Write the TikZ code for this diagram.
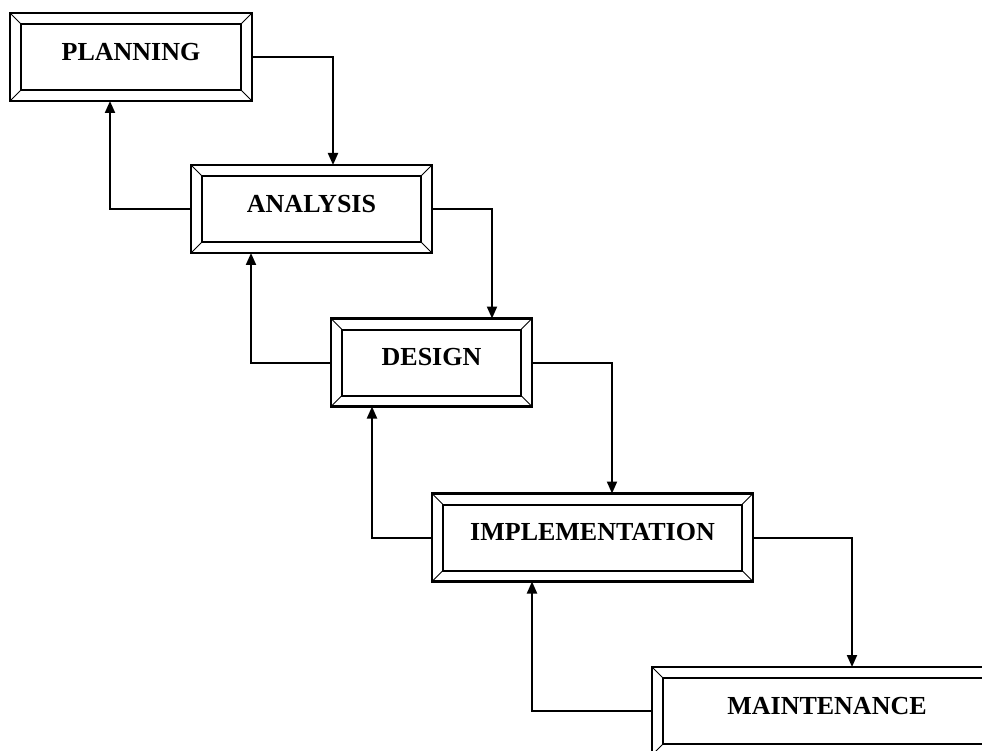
\documentclass[tikz,border=0pt]{standalone}
\usepackage{fontspec}
\setmainfont{Liberation Serif}
\usetikzlibrary{arrows.meta}
\tikzset{
    phase/.style={draw, line width=2.4pt, outer sep=0pt, inner sep=0pt,
        minimum height=88pt, text depth=11pt,
        font=\fontsize{26}{30}\selectfont\bfseries},
    bevel/.style={line width=2pt},
    corner/.style={line width=1pt},
    flow/.style={line width=2pt, -{Triangle[length=12pt,width=10pt]}}
}
\begin{document}
\begin{tikzpicture}[x=1pt, y=-1pt]
    \useasboundingbox (0,0) rectangle (982,751);
    % the five phases
    \foreach \n/\txt/\x/\y/\w in {plan/PLANNING/131/57/242,
                                  anal/ANALYSIS/311.5/209/241,
                                  desi/DESIGN/431.5/362.5/201,
                                  impl/IMPLEMENTATION/592.5/537.5/321,
                                  main/MAINTENANCE/827/711/350} {
        \node[phase, minimum width=\w pt] (\n) at (\x, \y) {\txt};
        \draw[bevel] ([shift={(11,11)}]\n.north west) rectangle ([shift={(-11,-11)}]\n.south east);
        \begin{scope}[corner]
            \draw (\n.north west) -- ++(11, 11);
            \draw (\n.north east) -- ++(-11, 11);
            \draw (\n.south west) -- ++(11, -11);
            \draw (\n.south east) -- ++(-11, -11);
        \end{scope}
    }
    % forward and feedback arrows
    \foreach \a/\b/\dn/\up in {plan/anal/21.5/-21, anal/desi/60.5/-60.5,
                               desi/impl/19.5/-59.5, impl/main/25/-60.5} {
        \draw[flow] (\a.east) -| ([xshift=\dn pt]\b.north);
        \draw[flow] (\b.west) -| ([xshift=\up pt]\a.south);
    }
\end{tikzpicture}
\end{document}
